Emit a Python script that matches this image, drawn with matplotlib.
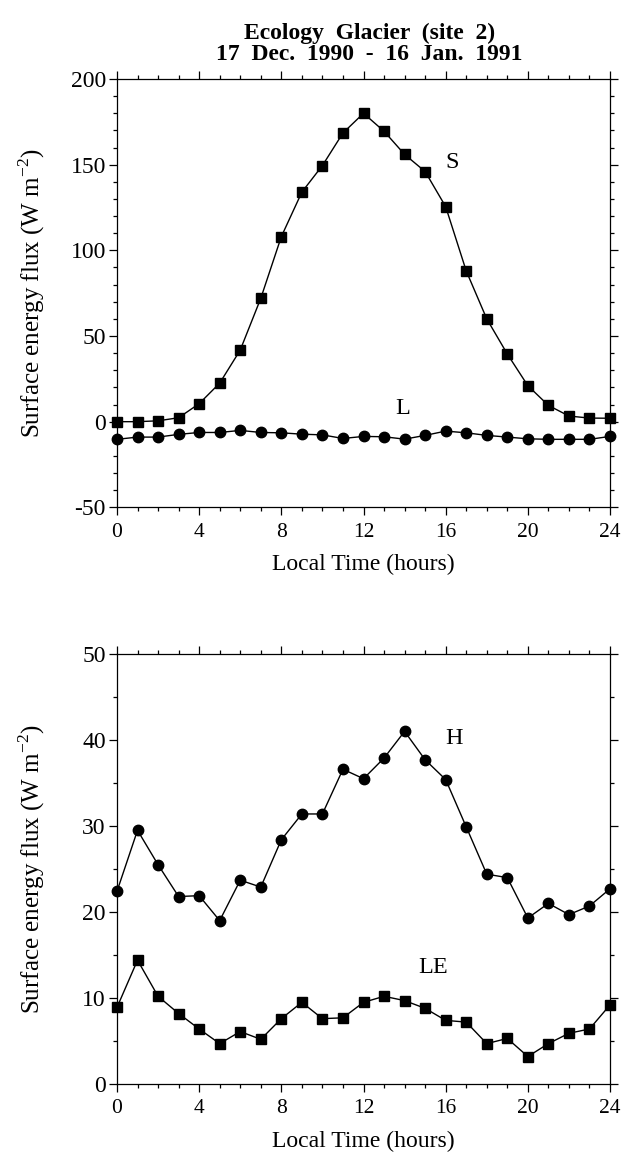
import matplotlib
matplotlib.use("Agg")
from matplotlib import pyplot as plt
from matplotlib.ticker import MultipleLocator

plt.rcParams['font.family'] = ['Liberation Serif', 'DejaVu Serif']
plt.rcParams['axes.unicode_minus'] = False
plt.rcParams['mathtext.fontset'] = 'custom'
plt.rcParams['mathtext.rm'] = 'Liberation Serif'

hours = list(range(25))

# top panel: shortwave (S) and longwave (L) net fluxes
S = [0, 0, 0.5, 2.3, 10.5, 22.5, 41.8, 72, 108, 134, 149.5, 168.5, 180,
     169.5, 156, 146, 125.5, 88, 60, 39.5, 21, 9.5, 3.3, 2.1, 2]
L = [-10.3, -9, -9, -7.4, -6.3, -6.3, -5.1, -6.3, -6.5, -7.3, -7.7, -9.8, -8.6,
     -8.8, -10.2, -8, -5.5, -6.5, -8, -9, -10, -10.3, -10.3, -10.3, -8.6]

# bottom panel: sensible (H) and latent (LE) heat fluxes
H = [22.4, 29.5, 25.5, 21.8, 21.9, 19.0, 23.7, 22.9, 28.4, 31.4, 31.4, 36.6, 35.5,
     37.9, 41.0, 37.7, 35.4, 29.9, 24.4, 24.0, 19.3, 21.0, 19.7, 20.7, 22.7]
LE = [8.9, 14.4, 10.2, 8.2, 6.4, 4.7, 6.1, 5.2, 7.6, 9.5, 7.6, 7.7, 9.5,
      10.2, 9.7, 8.8, 7.4, 7.2, 4.7, 5.3, 3.2, 4.7, 5.9, 6.4, 9.2]

xticks = [0, 4, 8, 12, 16, 20, 24]
ylab = 'Surface energy flux (W m$^{\\mathrm{-2}}$)'
fs = 17.5

fig = plt.figure(figsize=(6.42, 11.52), dpi=100)
ax1 = fig.add_axes([0.1822, 0.5596, 0.768, 0.3718])
ax2 = fig.add_axes([0.1822, 0.0590, 0.768, 0.3733])


def style(ax, ymin, ymax, ymaj, ymin_step):
    ax.set_xlim(0, 24)
    ax.set_ylim(ymin, ymax)
    ax.set_xticks(xticks)
    ax.xaxis.set_minor_locator(MultipleLocator(1))
    ax.yaxis.set_major_locator(MultipleLocator(ymaj))
    ax.yaxis.set_minor_locator(MultipleLocator(ymin_step))
    ax.tick_params(which='both', direction='out', top=True, right=True, width=0.9)
    ax.tick_params(axis='x', labelsize=15.5, pad=5)
    ax.tick_params(axis='y', labelsize=17, pad=2)
    ax.tick_params(which='major', length=6)
    ax.tick_params(which='minor', length=3)
    for sp in ax.spines.values():
        sp.set_linewidth(0.9)
    ax.set_xlabel('Local Time (hours)', fontsize=17, labelpad=9)
    ax.set_ylabel(ylab, fontsize=18)
    ax.yaxis.set_label_coords(-0.142, 0.5)


ax1.plot(hours, S, '-s', color='black', lw=1, ms=6.5, clip_on=False, zorder=3)
ax1.plot(hours, L, '-o', color='black', lw=1, ms=7.5, clip_on=False, zorder=3)
style(ax1, -50, 200, 50, 10)
ax1.text(16.3, 151, 'S', fontsize=fs, ha='center', va='center')
ax1.text(13.9, 7.5, 'L', fontsize=fs, ha='center', va='center')
ax1.set_title('Ecology  Glacier  (site  2)\n17  Dec.  1990  -  16  Jan.  1991',
              fontsize=17, fontweight='bold', linespacing=1.0, pad=14, x=0.512)

ax2.plot(hours, H, '-o', color='black', lw=1, ms=7.5, clip_on=False, zorder=3)
ax2.plot(hours, LE, '-s', color='black', lw=1, ms=6.5, clip_on=False, zorder=3)
style(ax2, 0, 50, 10, 5)
ax2.text(16.4, 40.2, 'H', fontsize=fs, ha='center', va='center')
ax2.text(15.4, 13.5, 'LE', fontsize=fs, ha='center', va='center')

fig.savefig('out.png', dpi=100)
